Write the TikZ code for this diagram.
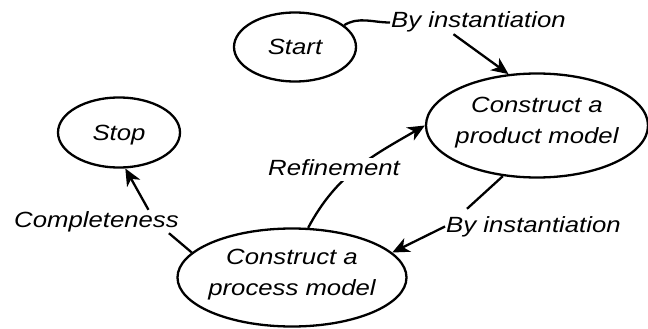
\documentclass[tikz,border=0pt]{standalone}
\usepackage{fontspec}
\setmainfont{Liberation Sans}[FakeStretch=1.17]
\usetikzlibrary{shapes.geometric,arrows.meta}
\begin{document}
\begin{tikzpicture}[x=1pt,y=-1pt,
  every node/.style={font=\fontsize{22}{31}\selectfont\itshape},
  state/.style={ellipse, draw, line width=2.3pt, inner xsep=-10pt, inner ysep=0pt, align=center, text height=16pt},
  one/.style={text depth=0pt},
  two/.style={text height=35pt, text depth=0pt},
  lab/.style={inner sep=1pt, fill=white, text height=16pt, text depth=5pt, anchor=base west},
  conn/.style={line width=2.3pt},
  arr/.style={conn, -{Stealth[length=17pt,width=15pt,inset=5pt]}}]
\useasboundingbox (0,0) rectangle (648,329);

\node[state, one, minimum width=122pt, minimum height=69pt] (start) at (295,47) {Start};
\node[state, one, minimum width=122pt, minimum height=70pt] (stop) at (119,132.5) {Stop};
\node[state, two, minimum width=222pt, minimum height=104pt] (prod) at (537,125.5) {Construct a\\product model};
\node[state, two, minimum width=229pt, minimum height=98pt] (proc) at (292,277.5) {Construct a\\process model};

\node[lab] (lab1) at (390,28) {By instantiation};
\node[lab] (lab2) at (445,232) {By instantiation};
\node[lab] (lab3) at (13,227) {Completeness};

\draw[conn] (start.24) to[out=30,in=180] (lab1.west);
\draw[arr] ([xshift=-25pt]lab1.south) -- (prod.119);

\draw[conn] (prod.236) -- ([xshift=22pt,yshift=6pt]lab2.north west);
\draw[arr] (lab2.west) -- (proc.14);

\draw[arr] (proc.72) to[out=62,in=210] (prod.west);
\node[lab] (lab4) at (267,175) {Refinement};

\draw[conn] (proc.166) -- ([xshift=-11pt]lab3.south east);
\draw[arr] ([xshift=52pt]lab3.north) -- (stop.280);
\end{tikzpicture}
\end{document}
